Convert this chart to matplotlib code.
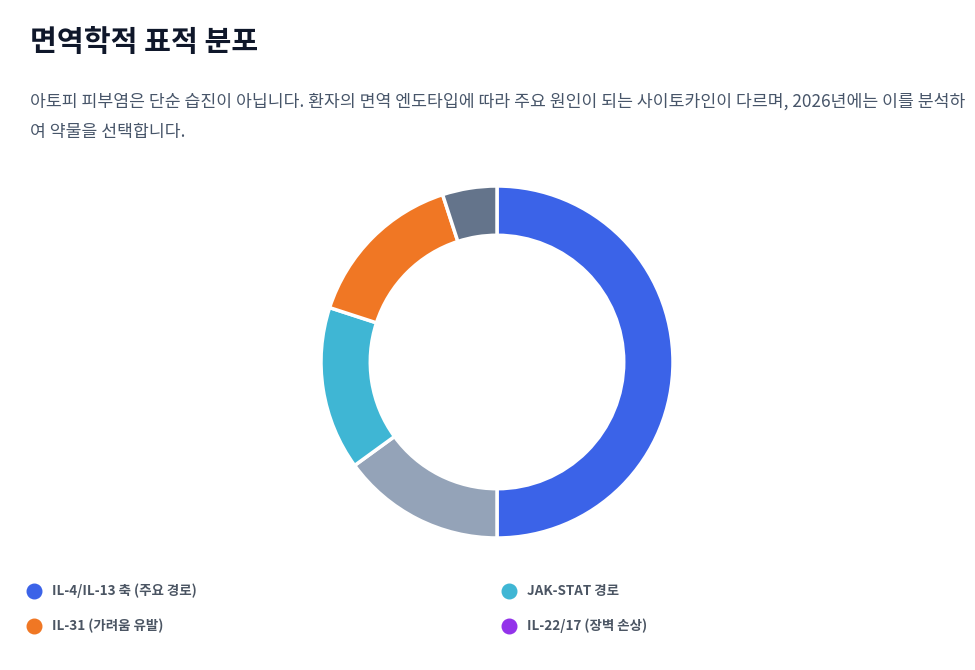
import matplotlib
matplotlib.use("Agg")
import matplotlib.pyplot as plt

plt.rcParams['font.family'] = ['Noto Sans CJK KR', 'DejaVu Sans']

# 데이터
title = "면역학적 표적 분포"
subtitle_lines = [
    "아토피 피부염은 단순 습진이 아닙니다. 환자의 면역 엔도타입에 따라 주요 원인이 되는 사이토카인이 다르며, 2026년에는 이를 분석하",
    "여 약물을 선택합니다.",
]
slice_values = [50, 15, 15, 15, 5]
slice_colors = ['#3b63e8', '#94a3b8', '#3fb6d4', '#f07724', '#64748b']
legend_labels = ["IL-4/IL-13 축 (주요 경로)", "JAK-STAT 경로", "IL-31 (가려움 유발)", "IL-22/17 (장벽 손상)"]
legend_colors = ['#3b63e8', '#3fb6d4', '#f07724', '#9333ea']

W, H = 975, 670
fig = plt.figure(figsize=(W / 100, H / 100), dpi=100)
fig.patch.set_facecolor('white')

# 제목 + 설명
fig.text(30 / W, 1 - 42 / H, title, fontsize=21, fontweight='bold', color='#0f172a',
         va='center', ha='left')
for i, line in enumerate(subtitle_lines):
    fig.text(30 / W, 1 - (102 + i * 30) / H, line, fontsize=12.4, color='#475569',
             va='center', ha='left')

# 도넛 차트
cx, cy, r = 497, 362, 176
ax = fig.add_axes([(cx - r) / W, (H - cy - r) / H, 2 * r / W, 2 * r / H])
ax.pie(slice_values, colors=slice_colors, startangle=90, counterclock=False, radius=1,
       wedgeprops=dict(width=0.28, edgecolor='white', linewidth=2.5))
ax.set_xlim(-1.0, 1.0)
ax.set_ylim(-1.0, 1.0)
ax.set_axis_off()

# 범례
lax = fig.add_axes([0, 0, 1, 1])
lax.set_xlim(0, W)
lax.set_ylim(H, 0)
lax.set_axis_off()
pos = [(34, 591), (509, 591), (34, 626), (509, 626)]
for (x, y), lab, col in zip(pos, legend_labels, legend_colors):
    lax.scatter([x], [y], s=110, color=col, zorder=3)
    lax.text(x + 18, y, lab, fontsize=9.7, fontweight='bold', color='#4b5563',
             va='center', ha='left')

fig.savefig("out.png", dpi=100, facecolor='white')
